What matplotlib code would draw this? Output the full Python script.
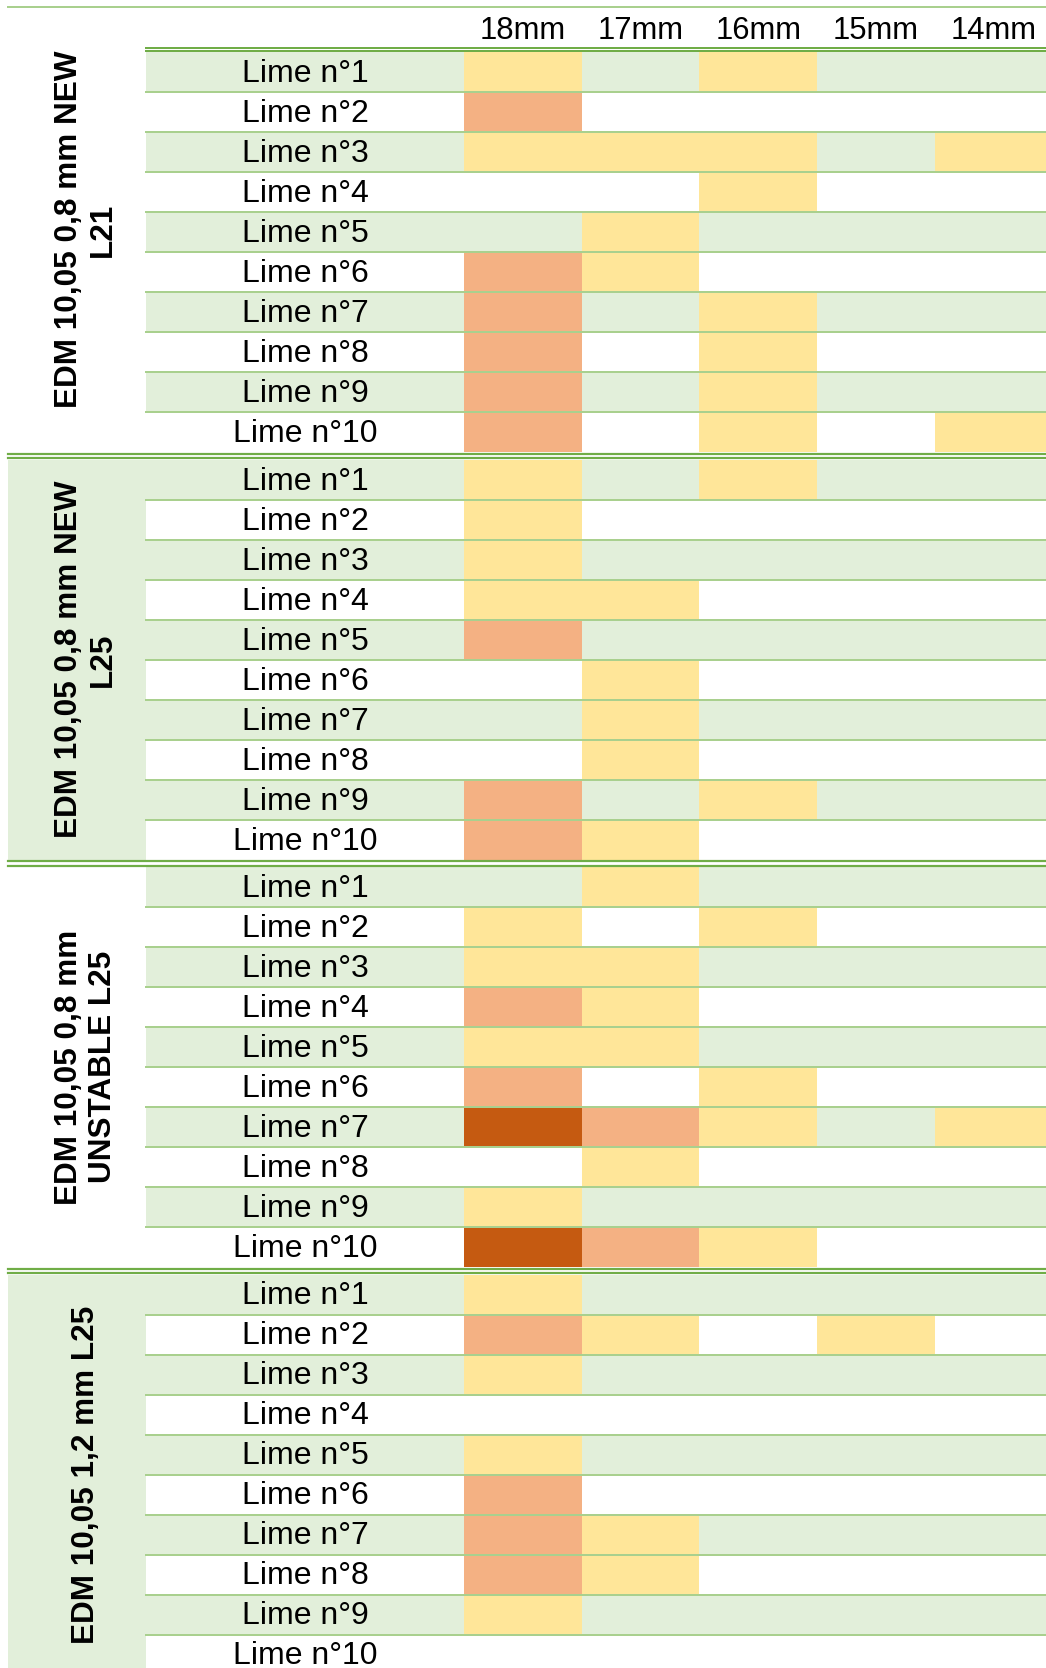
import numpy as np
import matplotlib
matplotlib.use('Agg')
from matplotlib import pyplot as plt
from matplotlib import font_manager

# column headers and row labels
columns = ['18mm', '17mm', '16mm', '15mm', '14mm']
limes = ['Lime n°%d' % i for i in range(1, 11)]
groups = ['EDM 10,05 0,8 mm NEW\nL21',
          'EDM 10,05 0,8 mm NEW\nL25',
          'EDM 10,05 0,8 mm\nUNSTABLE L25',
          'EDM 10,05 1,2 mm L25']

# wear level per lime and column: 0 none, 1 light, 2 medium, 3 strong
new_l21 = [[1, 0, 1, 0, 0],
           [2, 0, 0, 0, 0],
           [1, 1, 1, 0, 1],
           [0, 0, 1, 0, 0],
           [0, 1, 0, 0, 0],
           [2, 1, 0, 0, 0],
           [2, 0, 1, 0, 0],
           [2, 0, 1, 0, 0],
           [2, 0, 1, 0, 0],
           [2, 0, 1, 0, 1]]
new_l25 = [[1, 0, 1, 0, 0],
           [1, 0, 0, 0, 0],
           [1, 0, 0, 0, 0],
           [1, 1, 0, 0, 0],
           [2, 0, 0, 0, 0],
           [0, 1, 0, 0, 0],
           [0, 1, 0, 0, 0],
           [0, 1, 0, 0, 0],
           [2, 0, 1, 0, 0],
           [2, 1, 0, 0, 0]]
unstable_l25 = [[0, 1, 0, 0, 0],
                [1, 0, 1, 0, 0],
                [1, 1, 0, 0, 0],
                [2, 1, 0, 0, 0],
                [1, 1, 0, 0, 0],
                [2, 0, 1, 0, 0],
                [3, 2, 1, 0, 1],
                [0, 1, 0, 0, 0],
                [1, 0, 0, 0, 0],
                [3, 2, 1, 0, 0]]
mm12_l25 = [[1, 0, 0, 0, 0],
            [2, 1, 0, 1, 0],
            [1, 0, 0, 0, 0],
            [0, 0, 0, 0, 0],
            [1, 0, 0, 0, 0],
            [2, 0, 0, 0, 0],
            [2, 1, 0, 0, 0],
            [2, 1, 0, 0, 0],
            [1, 0, 0, 0, 0],
            [0, 0, 0, 0, 0]]
group_data = [new_l21, new_l25, unstable_l25, mm12_l25]
group_bg_green = [False, True, False, True]

level_colors = {1: '#FFE699', 2: '#F4B183', 3: '#C55A11'}
green_bg = '#E2EFDA'
line_light = '#A9D08E'
line_dark = '#70AD47'

# fonts
names = {f.name for f in font_manager.fontManager.ttflist}
if 'Liberation Sans Narrow' in names:
    lime_font, lime_size = 'Liberation Sans Narrow', 26.8
else:
    lime_font, lime_size = 'Liberation Sans', 23
head_font = 'Liberation Sans'

# layout in pixels
W, H = 1046, 1668
x_grp, x_lab, x_col0 = 8, 146, 464
col_w = 117.7
row_h = 40.0
top_line = 7
first_row = 52
group_gap = 7.5
px = 0.72  # points per pixel at dpi 100

fig = plt.figure(figsize=(W / 100, H / 100), dpi=100)
ax = fig.add_axes([0, 0, 1, 1])
ax.set_xlim(0, W)
ax.set_ylim(H, 0)
ax.axis('off')

# header
ax.plot([x_grp, W], [top_line, top_line], color=line_light, lw=2 * px)
for j, c in enumerate(columns):
    ax.text(x_col0 + (j + 0.5) * col_w, 39, c, ha='center', va='baseline',
            fontsize=22.3, family=head_font, color='black')
ax.plot([x_lab, W], [48, 48], color=line_dark, lw=2 * px)
ax.plot([x_lab, W], [51, 51], color=line_dark, lw=2 * px)

start = first_row
for g, (name, data) in enumerate(zip(groups, group_data)):
    data = np.array(data)
    end = start + len(limes) * row_h
    # group label cell
    if group_bg_green[g]:
        ax.barh(start + (end - start) / 2, x_lab - x_grp, left=x_grp,
                height=end - start, color=green_bg, lw=0)
    for i, lime in enumerate(limes):
        y0 = start + i * row_h
        if i % 2 == 0:
            ax.barh(y0 + row_h / 2, W - x_lab, left=x_lab, height=row_h,
                    color=green_bg, lw=0)
        for j in range(len(columns)):
            lv = data[i, j]
            if lv:
                ax.barh(y0 + row_h / 2, col_w, left=x_col0 + j * col_w,
                        height=row_h, color=level_colors[lv], lw=0)
        ax.text((x_lab + x_col0) / 2, y0 + 0.75 * row_h, lime, ha='center',
                va='baseline', fontsize=lime_size, family=lime_font,
                color='black')
        if i < len(limes) - 1:
            ax.plot([x_lab, W], [y0 + row_h, y0 + row_h], color=line_light,
                    lw=2 * px, zorder=3)
    # group title, first one spans the header too
    cy = (top_line + end) / 2 if g == 0 else (start + end) / 2
    ax.text(86, cy, name, rotation=90, ha='center', va='center',
            fontsize=22.7, fontweight='bold', family=head_font,
            color='black', linespacing=1.2)
    # double line between groups
    if g < len(groups) - 1:
        ax.plot([x_grp, W], [end + 1.5, end + 1.5], color=line_dark,
                lw=2.2 * px, zorder=3)
        ax.plot([x_grp, W], [end + 6, end + 6], color=line_dark,
                lw=2.2 * px, zorder=3)
    start = end + group_gap

fig.savefig('out.png', dpi=100)
